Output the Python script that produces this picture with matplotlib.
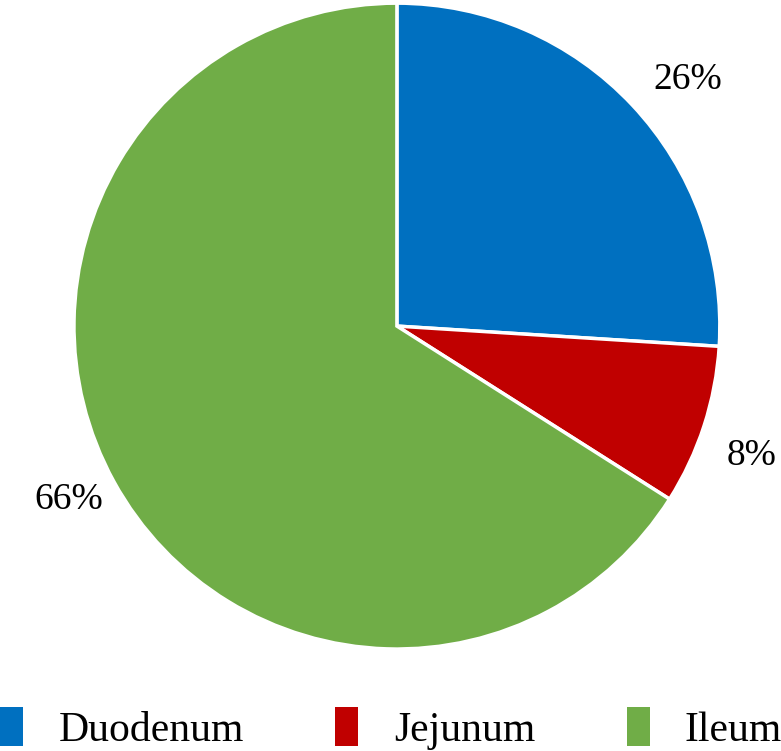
import numpy as np
import matplotlib.pyplot as plt
from matplotlib.patches import Patch

# parts of the small intestine
segments = ["Duodenum", "Jejunum", "Ileum"]
shares = [26, 8, 66]
colours = ["#0070C0", "#C00000", "#70AD47"]

plt.rcParams['font.family'] = ['Liberation Serif', 'DejaVu Serif']

fig = plt.figure(figsize=(7.81, 7.51), dpi=100)
ax = fig.add_axes([0.0947, 0.1358, 0.827, 0.860])

wedges, texts, autotexts = ax.pie(
    shares, colors=colours, startangle=90, counterclock=False,
    autopct='%d%%', pctdistance=1.17,
    wedgeprops=dict(edgecolor='white', linewidth=2.5),
    textprops=dict(fontsize=27, color='black'))
ax.set_xlim(-1, 1)
ax.set_ylim(-1, 1)

# labels sit a little off the wedge middle, like the original
nudge = [-3.0, -2.0, -1.0]
dist = [1.18, 1.17, 1.15]
for w, t, dn, r in zip(wedges, autotexts, nudge, dist):
    ang = np.deg2rad((w.theta1 + w.theta2) / 2 + dn)
    t.set_position((r * np.cos(ang), r * np.sin(ang)))

handles = [Patch(facecolor=c, edgecolor='none') for c in colours]
fig.legend(handles, segments, loc='center left', bbox_to_anchor=(0.0, 0.03),
           ncol=3, frameon=False, fontsize=30,
           handlelength=0.55, handleheight=1.05, handletextpad=0.85,
           columnspacing=2.2, borderpad=0, borderaxespad=0)

fig.savefig("out.png", dpi=100)
